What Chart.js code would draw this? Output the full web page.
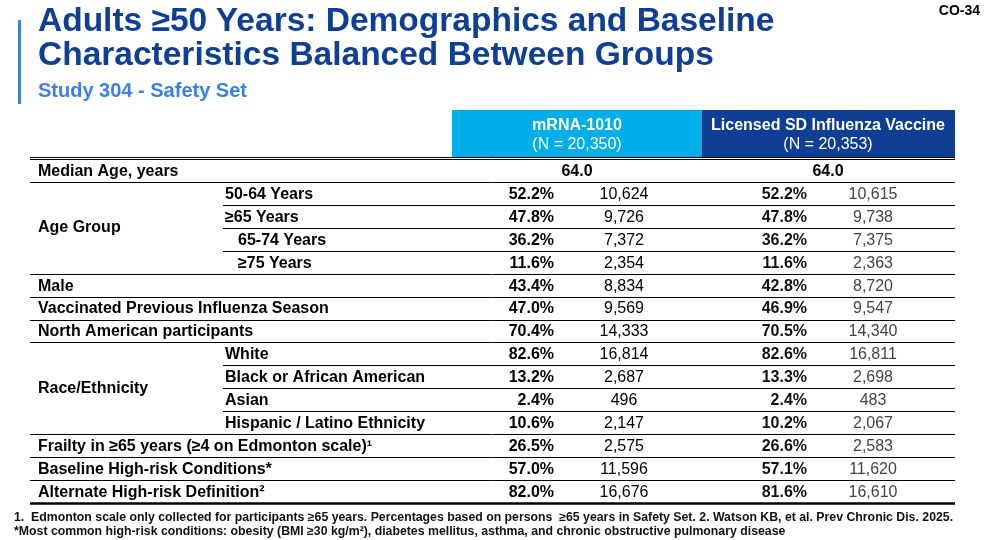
<!DOCTYPE html>
<html>
<head>
<meta charset="utf-8">
<script src="https://cdn.jsdelivr.net/npm/chart.js@4"></script>
<style>
  body { margin: 0; width: 990px; height: 540px; position: relative; background: #fff; font-family: 'Liberation Sans', Arial, sans-serif; overflow: hidden; }
  #wrap { position: absolute; left: 0; top: 0; width: 990px; height: 540px; }
  .bar { position: absolute; left: 18px; top: 20px; width: 3px; height: 84px; background: #3B7FE8; }
  .title { position: absolute; left: 38px; top: 3px; font-size: 33.5px; line-height: 34px; font-weight: bold; color: #0E3F94; white-space: nowrap; }
  .sub { position: absolute; left: 38px; top: 79px; font-size: 20px; font-weight: bold; color: #3B7FE8; }
  .code { position: absolute; right: 10px; top: 2px; font-size: 14px; font-weight: bold; color: #000; }
  .foot { position: absolute; left: 14px; font-size: 12.3px; font-weight: bold; color: #111; white-space: nowrap; }
</style>
</head>
<body>
<div id="wrap"><canvas id="table-chart"></canvas></div>
<div class="bar"></div>
<div class="title">Adults ≥50 Years: Demographics and Baseline<br>Characteristics Balanced Between Groups</div>
<div class="sub">Study 304 - Safety Set</div>
<div class="code">CO-34</div>
<div class="foot" style="top:510px">1.&nbsp; Edmonton scale only collected for participants ≥65 years. Percentages based on persons &nbsp;≥65 years in Safety Set. 2. Watson KB, et al. Prev Chronic Dis. 2025.</div>
<div class="foot" style="top:524px">*Most common high-risk conditions: obesity (BMI ≥30 kg/m²), diabetes mellitus, asthma, and chronic obstructive pulmonary disease</div>
<script>
const groupNames = ['mRNA-1010', 'Licensed SD Influenza Vaccine'];
const groupN = ['(N = 20,350)', '(N = 20,353)'];

const rowLabels = ['Median Age, years', '50-64 Years', '≥65 Years', '65-74 Years', '≥75 Years', 'Male',
  'Vaccinated Previous Influenza Season', 'North American participants', 'White', 'Black or African American',
  'Asian', 'Hispanic / Latino Ethnicity', 'Frailty in ≥65 years (≥4 on Edmonton scale)¹',
  'Baseline High-risk Conditions*', 'Alternate High-risk Definition²'];
// 0 = top-level row, 1 = sub row, 2 = nested sub row
const rowLevel = [0, 1, 1, 2, 2, 0, 0, 0, 1, 1, 1, 1, 0, 0, 0];
const groupLabels = [{ text: 'Age Group', first: 1, last: 4 }, { text: 'Race/Ethnicity', first: 8, last: 11 }];

const medianAge = ['64.0', '64.0'];
const mrnaPct = [null, '52.2%', '47.8%', '36.2%', '11.6%', '43.4%', '47.0%', '70.4%', '82.6%', '13.2%', '2.4%', '10.6%', '26.5%', '57.0%', '82.0%'];
const mrnaN = [null, '10,624', '9,726', '7,372', '2,354', '8,834', '9,569', '14,333', '16,814', '2,687', '496', '2,147', '2,575', '11,596', '16,676'];
const licPct = [null, '52.2%', '47.8%', '36.2%', '11.6%', '42.8%', '46.9%', '70.5%', '82.6%', '13.3%', '2.4%', '10.2%', '26.6%', '57.1%', '81.6%'];
const licN = [null, '10,615', '9,738', '7,375', '2,363', '8,720', '9,547', '14,340', '16,811', '2,698', '483', '2,067', '2,583', '11,620', '16,610'];

const COLS = { left: 30, right: 955, mid: 702, g1: 452, pct1: 554, n1: 624, pct2: 807, n2: 873, med1: 577, med2: 828 };
const FONT = '16px "Liberation Sans", Arial';
const BOLD = 'bold ' + FONT;

const tablePlugin = {
  id: 'tablePlugin',
  afterDraw(chart) {
    const { ctx } = chart;
    const x = chart.scales.x;
    const y = chart.scales.y;
    const px = (v) => x.getPixelForValue(v);
    const band = y.getPixelForValue(1) - y.getPixelForValue(0);
    const top = y.getPixelForValue(0) - band / 2;
    const bottom = y.getPixelForValue(rowLabels.length - 1) + band / 2;

    ctx.save();
    // header cells
    ctx.fillStyle = '#00AEEA';
    ctx.fillRect(px(COLS.g1), top - 49, px(COLS.mid) - px(COLS.g1), 48);
    ctx.fillStyle = '#0E3F94';
    ctx.fillRect(px(COLS.mid), top - 49, px(COLS.right) - px(COLS.mid), 48);
    ctx.fillStyle = '#fff';
    ctx.textAlign = 'center';
    ctx.textBaseline = 'middle';
    [COLS.med1, COLS.med2].forEach((c, i) => {
      ctx.font = BOLD;
      ctx.fillText(groupNames[i], px(c), top - 33);
      ctx.font = FONT;
      ctx.fillText(groupN[i], px(c), top - 14);
    });

    // lines
    ctx.strokeStyle = '#000';
    const hline = (x0, yy, w) => {
      ctx.lineWidth = w || 1;
      ctx.beginPath();
      ctx.moveTo(px(x0), Math.round(yy) + 0.5);
      ctx.lineTo(px(COLS.right), Math.round(yy) + 0.5);
      ctx.stroke();
    };
    hline(COLS.left, top - 2);
    hline(COLS.left, top);
    rowLabels.forEach((_, i) => {
      if (i === rowLabels.length - 1) return;
      const yy = y.getPixelForValue(i) + band / 2;
      const inner = rowLevel[i] > 0 && rowLevel[i + 1] > 0;
      hline(inner ? 223 : COLS.left, yy);
    });
    hline(COLS.left, bottom, 2.5);

    // row labels
    ctx.fillStyle = '#000';
    ctx.font = BOLD;
    ctx.textAlign = 'left';
    rowLabels.forEach((label, i) => {
      const lx = rowLevel[i] === 0 ? 38 : rowLevel[i] === 1 ? 225 : 238;
      ctx.fillText(label, px(lx), y.getPixelForValue(i) + 1);
    });
    groupLabels.forEach((g) => {
      const gy = (y.getPixelForValue(g.first) + y.getPixelForValue(g.last)) / 2;
      ctx.fillText(g.text, px(38), gy);
    });

    // median
    ctx.textAlign = 'center';
    ctx.fillText(medianAge[0], px(COLS.med1), y.getPixelForValue(0) + 1);
    ctx.fillText(medianAge[1], px(COLS.med2), y.getPixelForValue(0) + 1);

    // values
    rowLabels.forEach((_, i) => {
      if (mrnaPct[i] === null) return;
      const ry = y.getPixelForValue(i) + 1;
      ctx.font = BOLD;
      ctx.textAlign = 'right';
      ctx.fillStyle = '#000';
      ctx.fillText(mrnaPct[i], px(COLS.pct1), ry);
      ctx.fillStyle = '#111';
      ctx.fillText(licPct[i], px(COLS.pct2), ry);
      ctx.font = FONT;
      ctx.textAlign = 'center';
      ctx.fillStyle = '#000';
      ctx.fillText(mrnaN[i], px(COLS.n1), ry);
      ctx.fillStyle = '#444';
      ctx.fillText(licN[i], px(COLS.n2), ry);
    });
    ctx.restore();
  },
};

new Chart(document.getElementById('table-chart'), {
  type: 'scatter',
  data: { labels: rowLabels, datasets: [] },
  options: {
    responsive: true,
    maintainAspectRatio: false,
    animation: false,
    layout: { padding: { top: 159, bottom: 37, left: 0, right: 0 } },
    plugins: { legend: { display: false }, tooltip: { enabled: false } },
    scales: {
      x: { type: 'linear', min: 0, max: 990, display: false },
      y: { type: 'category', labels: rowLabels, offset: true, display: false },
    },
  },
  plugins: [tablePlugin],
});
</script>
</body>
</html>
